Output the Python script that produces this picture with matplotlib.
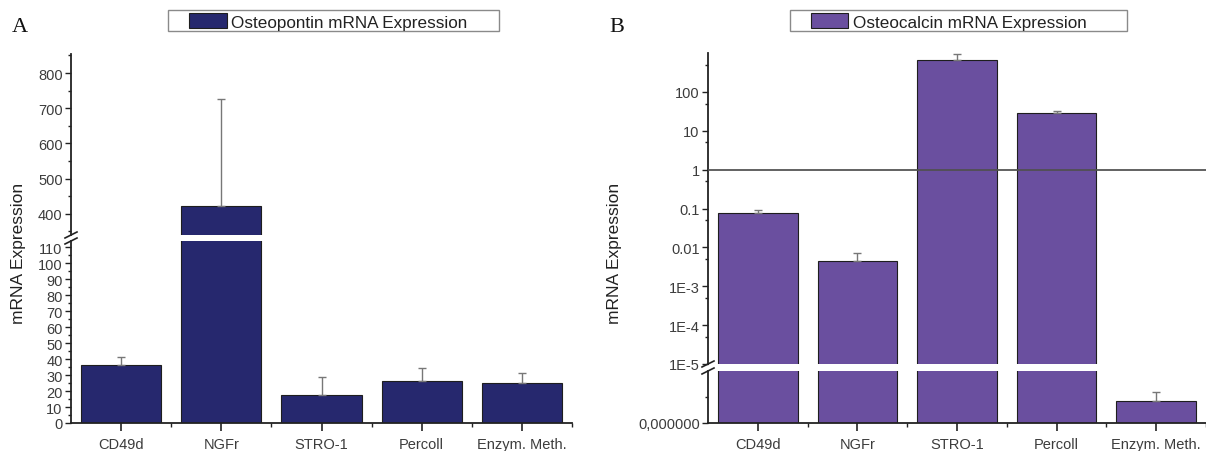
import numpy as np
import matplotlib
matplotlib.use("Agg")
import matplotlib.pyplot as plt
from matplotlib.patches import Rectangle
from matplotlib.lines import Line2D
from matplotlib.ticker import FixedLocator, NullFormatter

plt.rcParams['font.family'] = ['Liberation Sans', 'DejaVu Sans']

# data
categories = ['CD49d', 'NGFr', 'STRO-1', 'Percoll', 'Enzym. Meth.']
opn_mean = [36.3, 421.8, 17.5, 26.1, 25.0]
opn_err = [4.8, 304.0, 11.5, 8.1, 6.1]
ocn_mean = [0.076, 0.0044, 652.0, 27.9, 8.3e-7]
ocn_err = [0.016, 0.0026, 278.0, 4.1, 3.7e-7]

opn_upper_ticks = [400, 500, 600, 700, 800]
opn_lower_ticks = list(range(0, 111, 10))
ocn_log_ticks = [1e-5, 1e-4, 1e-3, 1e-2, 1e-1, 1, 10, 100]
ocn_log_labels = ['1E-5', '1E-4', '1E-3', '0.01', '0.1', '1', '10', '100']

NAVY = '#26286e'
PURPLE = '#6a4f9f'
EDGE = '#1e1e1e'
TXT = '#3c3c3c'

W, H = 1206, 452
fig = plt.figure(figsize=(W / 100, H / 100), dpi=100)


def px_box(l, t, r, b):
    return [l / W, 1 - b / H, (r - l) / W, (b - t) / H]


def fx(x):
    return x / W


def fy(y):
    return 1 - y / H


def style_axis(ax, bottom):
    for s in ('top', 'right'):
        ax.spines[s].set_visible(False)
    for s in ('left', 'bottom'):
        ax.spines[s].set_linewidth(1.3)
        ax.spines[s].set_color('#222222')
    ax.tick_params(axis='y', which='major', direction='out', length=4, width=1,
                   labelsize=10.5, labelcolor=TXT, color='#222222', pad=2)
    ax.tick_params(axis='y', which='minor', direction='out', length=2.5, width=1,
                   color='#222222')
    ax.set_xlim(0.5, 5.5)
    if bottom:
        ax.set_xticks(x)
        ax.set_xticklabels(categories)
        ax.xaxis.set_minor_locator(FixedLocator([1.5, 2.5, 3.5, 4.5, 5.5]))
        ax.tick_params(axis='x', which='major', direction='out', length=6, width=1.2,
                       labelsize=10.5, labelcolor=TXT, color='#222222', pad=4)
        ax.tick_params(axis='x', which='minor', direction='out', length=3, width=1,
                       color='#222222')
    else:
        ax.spines['bottom'].set_visible(False)
        ax.set_xticks([])


def draw_bars(ax, mean, err, color):
    ax.bar(x, mean, width=0.8, color=color, edgecolor=EDGE, linewidth=0.8,
           yerr=[np.zeros(len(err)), err],
           error_kw=dict(ecolor='#777777', elinewidth=1, capsize=2.6, capthick=1))


def break_marks(xs, y1, y2):
    for y in (y1, y2):
        fig.add_artist(Line2D([fx(xs - 6), fx(xs + 6)], [fy(y + 3), fy(y - 3)],
                              color='#222222', lw=1.2))


def legend_box(l, r, text, color):
    fig.add_artist(Rectangle((fx(l), fy(32.3)), (r - l) / W, 21.6 / H,
                             transform=fig.transFigure, facecolor='white',
                             edgecolor='#8a8a8a', lw=1))
    fig.add_artist(Rectangle((fx(l + 20.7), fy(29.3)), 37.6 / W, 15.3 / H,
                             transform=fig.transFigure, facecolor=color,
                             edgecolor=EDGE, lw=0.8))
    fig.text(fx(l + 63), fy(28), text, fontsize=12.3, color='#222222', va='baseline')


x = np.arange(1, len(categories) + 1)

# ---- panel A: osteopontin, linear axis with a break ----
a_top = fig.add_axes(px_box(71, 55, 572, 236))
a_bot = fig.add_axes(px_box(71, 242, 572, 424))
for ax in (a_top, a_bot):
    draw_bars(ax, opn_mean, opn_err, NAVY)
a_top.set_ylim(340, 854)
a_top.set_yticks(opn_upper_ticks)
a_top.yaxis.set_minor_locator(FixedLocator(np.arange(350, 851, 50)))
a_bot.set_ylim(0, 114)
a_bot.set_yticks(opn_lower_ticks)
a_bot.yaxis.set_minor_locator(FixedLocator(np.arange(5, 114, 5)))
style_axis(a_top, False)
style_axis(a_bot, True)
break_marks(71, 236, 242)

# ---- panel B: osteocalcin, log axis with a break ----
b_top = fig.add_axes(px_box(708, 54, 1206, 365))
b_bot = fig.add_axes(px_box(708, 372, 1206, 424))
b_top.set_yscale('log')
for ax in (b_top, b_bot):
    draw_bars(ax, ocn_mean, ocn_err, PURPLE)
b_top.axhline(1, color='#505050', lw=1.4, zorder=5, alpha=0.9)
b_top.set_ylim(1e-5, 1e3)
b_top.yaxis.set_major_locator(FixedLocator(ocn_log_ticks))
b_top.set_yticklabels(ocn_log_labels)
b_top.yaxis.set_minor_locator(FixedLocator([5 * 10.0 ** k for k in range(-5, 3)]))
b_top.yaxis.set_minor_formatter(NullFormatter())
b_bot.set_ylim(0, 2e-6)
b_bot.set_yticks([0])
b_bot.set_yticklabels(['0,000000'])
b_bot.yaxis.set_minor_locator(FixedLocator([1e-6]))
style_axis(b_top, False)
style_axis(b_bot, True)
break_marks(708, 365, 372)

# axis titles, panel letters, legends
fig.text(fx(19), fy(253), 'mRNA Expression', rotation=90, ha='center', va='center',
         fontsize=12.5, color='#222222')
fig.text(fx(615), fy(253), 'mRNA Expression', rotation=90, ha='center', va='center',
         fontsize=12.5, color='#222222')
fig.text(fx(11.5), fy(32.3), 'A', family=['Liberation Serif', 'DejaVu Serif'],
         fontsize=16, va='baseline', color='#111111')
fig.text(fx(609.5), fy(32.3), 'B', family=['Liberation Serif', 'DejaVu Serif'],
         fontsize=16, va='baseline', color='#111111')
legend_box(168.3, 499, 'Osteopontin mRNA Expression', NAVY)
legend_box(790, 1126.7, 'Osteocalcin mRNA Expression', PURPLE)

fig.savefig('out.png', dpi=100)
